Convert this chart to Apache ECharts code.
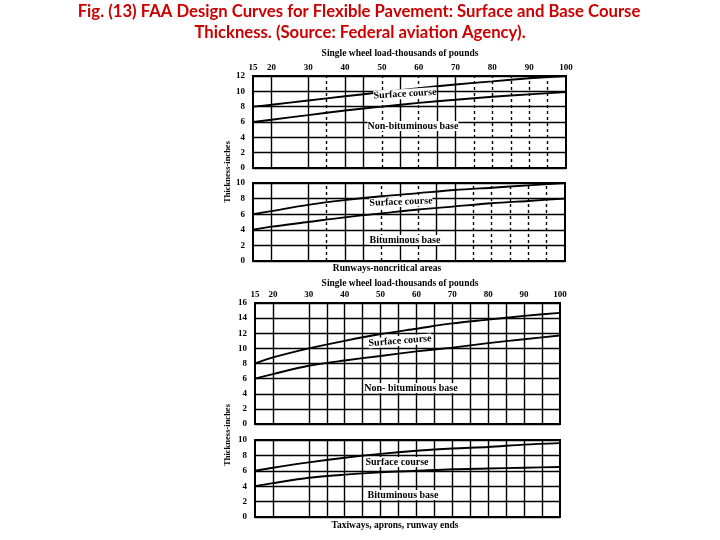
<!DOCTYPE html>
<html>
<head>
<meta charset="utf-8">
<script src="https://cdn.jsdelivr.net/npm/echarts@6/dist/echarts.min.js"></script>
<style>html,body{margin:0;padding:0;background:#fff}#c{width:720px;height:540px}</style>
</head>
<body>
<div id="c"></div>
<script>
// ---- data ----
const xLoads = [15, 20, 30, 40, 50, 60, 70, 80, 90, 100];
const tickLabels = [15, 20, 30, 40, 50, 60, 70, 80, 90, 100];
// Panel 1: runways non-critical, non-bituminous base
const p1Upper = [8.0, 8.25, 8.8, 9.35, 9.9, 10.4, 10.9, 11.3, 11.7, 12.0];
const p1Lower = [6.0, 6.3, 6.9, 7.5, 8.0, 8.5, 8.9, 9.3, 9.6, 9.9];
// Panel 2: runways non-critical, bituminous base
const p2Upper = [6.0, 6.4, 7.2, 7.8, 8.3, 8.7, 9.1, 9.4, 9.7, 10.0];
const p2Lower = [4.0, 4.4, 5.0, 5.6, 6.1, 6.6, 7.0, 7.4, 7.7, 8.0];
// Panel 3: taxiways etc, non-bituminous base
const p3Upper = [8.0, 8.8, 10.0, 11.0, 11.9, 12.6, 13.3, 13.8, 14.3, 14.7];
const p3Lower = [6.0, 6.6, 7.7, 8.4, 9.0, 9.6, 10.1, 10.7, 11.2, 11.7];
// Panel 4: taxiways etc, bituminous base
const p4Upper = [6.0, 6.4, 7.1, 7.7, 8.2, 8.6, 8.9, 9.1, 9.4, 9.6];
const p4Lower = [4.0, 4.4, 5.1, 5.5, 5.8, 6.0, 6.2, 6.3, 6.4, 6.5];
// vertical rulings
const gridXSolidTop = [20, 30, 40, 45, 55, 65, 70];
const gridXDashedTop = [35, 50, 60, 75, 80, 85, 90, 95];
const gridXBottom = [20, 30, 35, 40, 45, 50, 55, 60, 65, 70, 75, 80, 85, 90, 95];
const yMax = [12, 10, 16, 10];

const serif = '"Liberation Serif", "DejaVu Serif", serif';
const chart = echarts.init(document.getElementById('c'));

const grids = [
  {left: 253, right: 154, top: 76, height: 92},
  {left: 253, right: 155, top: 183, height: 78},
  {left: 255, right: 160, top: 303, height: 121},
  {left: 255, right: 160, top: 440, height: 77}
];
grids.forEach(g => { g.show = true; g.borderColor = '#000'; g.borderWidth = 2; g.backgroundColor = '#fff'; });

const xAxes = grids.map((g, i) => ({
  type: 'value', gridIndex: i, min: 15, max: 100, interval: 5,
  position: 'top',
  axisLine: {show: false}, axisTick: {show: false}, splitLine: {show: false},
  axisLabel: {
    show: i === 0 || i === 2, margin: 4,
    color: '#000', fontFamily: serif, fontWeight: 'bold', fontSize: 9,
    formatter: v => tickLabels.includes(v) ? String(v) : ''
  }
}));
const yAxes = grids.map((g, i) => ({
  type: 'value', gridIndex: i, min: 0, max: yMax[i], interval: 2,
  axisLine: {show: false}, axisTick: {show: false},
  splitLine: {show: true, lineStyle: {color: '#000', width: 1.4}},
  axisLabel: {color: '#000', fontFamily: serif, fontWeight: 'bold', fontSize: 9, margin: 8}
}));

function curve(arr, i) {
  return {
    type: 'line', xAxisIndex: i, yAxisIndex: i, symbol: 'none', smooth: 0.3,
    lineStyle: {color: '#000', width: 1.9}, z: 5,
    data: xLoads.map((x, k) => [x, arr[k]])
  };
}
function rulings(vals, i, type) {
  return {
    type: 'line', xAxisIndex: i, yAxisIndex: i, data: [], silent: true,
    markLine: {
      symbol: 'none', silent: true, label: {show: false},
      lineStyle: {color: '#000', width: 1.4, type: type},
      data: vals.map(v => ({xAxis: v}))
    }
  };
}

const series = [
  rulings(gridXSolidTop, 0, 'solid'), rulings(gridXDashedTop, 0, [3, 3]),
  rulings(gridXSolidTop, 1, 'solid'), rulings(gridXDashedTop, 1, [3, 3]),
  rulings(gridXBottom, 2, 'solid'), rulings(gridXBottom, 3, 'solid'),
  curve(p1Upper, 0), curve(p1Lower, 0),
  curve(p2Upper, 1), curve(p2Lower, 1),
  curve(p3Upper, 2), curve(p3Lower, 2),
  curve(p4Upper, 3), curve(p4Lower, 3)
];

function txt(t, x, y, size, rot, bg) {
  return {
    type: 'text', x: x, y: y, rotation: rot || 0, z: 20,
    style: {text: t, font: 'bold ' + size + 'px ' + serif, fill: '#000',
      align: 'center', verticalAlign: 'middle', backgroundColor: bg === false ? null : '#fff'}
  };
}
const titleFont = 'bold 16.7px Lato, "Open Sans", sans-serif';
const graphic = [
  {type: 'text', x: 359, y: 12, z: 30, style: {text: 'Fig. (13) FAA Design Curves for Flexible Pavement: Surface and Base Course',
    font: titleFont, fill: '#cc0000', align: 'center', verticalAlign: 'middle'}},
  {type: 'text', x: 360, y: 33, z: 30, style: {text: 'Thickness. (Source: Federal aviation Agency).',
    font: titleFont, fill: '#cc0000', align: 'center', verticalAlign: 'middle'}},
  txt('Single wheel load-thousands of pounds', 400, 54, 9.5, 0, false),
  txt('Single wheel load-thousands of pounds', 400, 284, 9.5, 0, false),
  txt('Surface course', 405, 94, 10, 0.06),
  txt('Non-bituminous base', 413, 126, 10),
  txt('Surface course', 401, 202, 10, 0.04),
  txt('Bituminous base', 405, 240, 10),
  txt('Runways-noncritical areas', 387, 269, 9.5, 0, false),
  txt('Surface course', 400, 341, 10, 0.08),
  txt('Non- bituminous base', 411, 388, 10),
  txt('Surface course', 397, 462, 10),
  txt('Bituminous base', 403, 495, 10),
  txt('Taxiways, aprons, runway ends', 395, 526, 9.5, 0, false),
  {type: 'text', x: 228, y: 172, rotation: Math.PI / 2, style: {text: 'Thickness-inches',
    font: 'bold 8.5px ' + serif, fill: '#000', align: 'center', verticalAlign: 'middle'}},
  {type: 'text', x: 228, y: 435, rotation: Math.PI / 2, style: {text: 'Thickness-inches',
    font: 'bold 8.5px ' + serif, fill: '#000', align: 'center', verticalAlign: 'middle'}}
];

chart.setOption({
  animation: false,
  backgroundColor: '#fff',
  grid: grids, xAxis: xAxes, yAxis: yAxes, series: series, graphic: graphic
});
</script>
</body>
</html>
